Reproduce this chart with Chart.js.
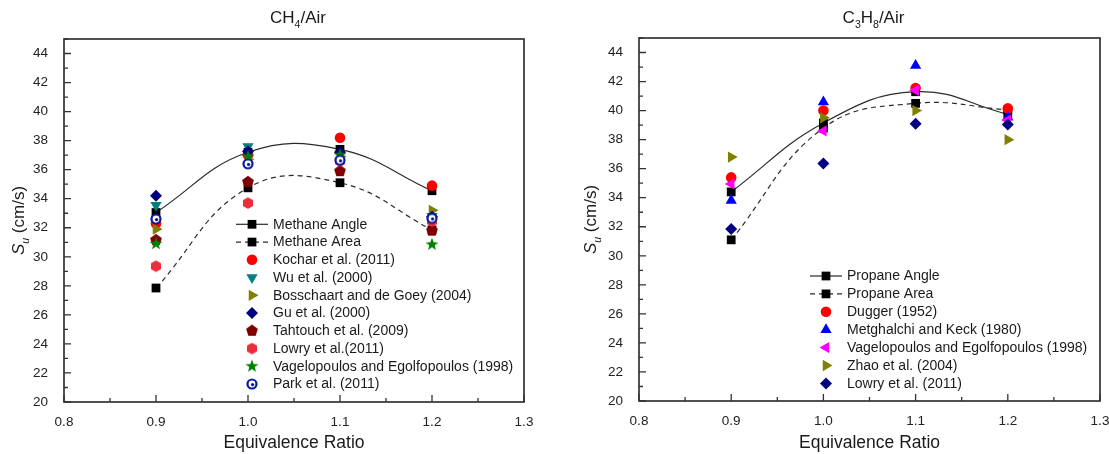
<!DOCTYPE html>
<html>
<head>
<meta charset="utf-8">
<script src="https://cdn.jsdelivr.net/npm/chart.js@4.4.1/dist/chart.umd.min.js"></script>
<style>
  html, body { margin: 0; padding: 0; background: #fff; }
  #wrap { position: relative; width: 1109px; height: 454px; overflow: hidden; background: #fff; }
  canvas { position: absolute; top: 0; }
  #ch4 { left: 0; }
  #c3h8 { left: 555px; }
</style>
</head>
<body>
<div id="wrap">
  <canvas id="ch4" width="555" height="454"></canvas>
  <canvas id="c3h8" width="554" height="454"></canvas>
</div>
<script>
// equivalence ratios where data was taken
const phi = [0.9, 1.0, 1.1, 1.2]
const xTicks = [0.8, 0.9, 1.0, 1.1, 1.2, 1.3]
const yTicks = [20, 22, 24, 26, 28, 30, 32, 34, 36, 38, 40, 42, 44]

// CH4/Air, S_u in cm/s
const methaneAngle = [33.05, 37.2, 37.4, 34.55]
const methaneArea = [27.85, 34.75, 35.1, 31.85]
const kochar = [32.3, 37.0, 38.2, 34.9]
const wu = [33.55, 37.6, 37.1, 32.8]
const bosschaart = [31.9, 36.7, 36.9, 33.2]
const gu = [34.2, 37.25, 37.2, 32.75]
const tahtouch = [31.15, 35.15, 35.9, 31.8]
const lowryCH4 = [29.35, 33.7, 36.6, 32.45]
const vageloCH4 = [30.9, 36.9, 37.0, 30.85]
const park = [32.6, 36.4, 36.65, 32.65]

// C3H8/Air, S_u in cm/s
const propaneAngle = [34.4, 39.15, 41.3, 39.75]
const propaneArea = [31.1, 38.8, 40.5, 40.05]
const dugger = [35.4, 40.0, 41.55, 40.15]
const metghalchi = [33.8, 40.6, 43.1, 39.55]
const vageloC3H8 = [34.95, 38.6, 41.4, 39.35]
const zhao = [36.8, 39.5, 40.0, 38.0]
const lowryC3H8 = [31.85, 36.35, 39.1, 39.05]

const FONT = "'Liberation Sans', Arial, sans-serif"
const LINE = '#2b2b2b'

// small canvases for the marker shapes chart.js has no built-in for
function marker (draw) {
  const c = document.createElement('canvas')
  c.width = 16
  c.height = 16
  const g = c.getContext('2d')
  g.translate(8, 8)
  draw(g)
  return c
}
function polygon (n, r, color, rot) {
  return marker(function (g) {
    g.fillStyle = color
    g.beginPath()
    for (let i = 0; i < n; i++) {
      const a = rot + i * 2 * Math.PI / n
      g.lineTo(r * Math.cos(a), r * Math.sin(a))
    }
    g.closePath()
    g.fill()
  })
}
function star (color) {
  return marker(function (g) {
    g.fillStyle = color
    g.beginPath()
    for (let i = 0; i < 10; i++) {
      const r = i % 2 ? 2.8 : 6.8
      const a = -Math.PI / 2 + i * Math.PI / 5
      g.lineTo(r * Math.cos(a), r * Math.sin(a))
    }
    g.closePath()
    g.fill()
  })
}
function ringDot (color) {
  return marker(function (g) {
    g.fillStyle = color
    g.beginPath(); g.arc(0, 0, 5.6, 0, 2 * Math.PI); g.fill()
    g.fillStyle = '#fff'
    g.beginPath(); g.arc(0, 0, 3.4, 0, 2 * Math.PI); g.fill()
    g.fillStyle = color
    g.beginPath(); g.arc(0.6, 0.6, 1.7, 0, 2 * Math.PI); g.fill()
  })
}

function pts (vals) {
  return phi.map(function (x, i) { return { x: x, y: vals[i] } })
}
function lineSet (label, vals, dash) {
  return {
    label: label,
    data: pts(vals),
    showLine: true,
    tension: 0.42,
    borderColor: LINE,
    borderWidth: 1.2,
    borderDash: dash,
    pointStyle: 'rect',
    pointRadius: 6.2,
    pointBackgroundColor: '#000',
    pointBorderColor: '#000',
    pointBorderWidth: 0
  }
}
function markSet (label, vals, color, style, radius, rotation) {
  return {
    label: label,
    data: pts(vals),
    showLine: false,
    pointStyle: style,
    pointRadius: radius,
    pointRotation: rotation || 0,
    pointBackgroundColor: color,
    pointBorderColor: color,
    pointBorderWidth: 0
  }
}

// rich text: parts of {t, sub, italic}
function drawRich (ctx, parts, x, y, size) {
  const fonts = parts.map(function (p) {
    return (p.italic ? 'italic ' : '') + (p.sub ? size * 0.62 : size) + 'px ' + FONT
  })
  let w = 0
  parts.forEach(function (p, i) { ctx.font = fonts[i]; w += ctx.measureText(p.t).width })
  let cx = x - w / 2
  ctx.textAlign = 'left'
  ctx.textBaseline = 'alphabetic'
  parts.forEach(function (p, i) {
    ctx.font = fonts[i]
    ctx.fillText(p.t, cx, y + (p.sub ? size * 0.28 : 0))
    cx += ctx.measureText(p.t).width
  })
}

const decor = {
  id: 'decor',
  afterDraw (chart, args, o) {
    const ctx = chart.ctx
    const a = chart.chartArea
    const xs = chart.scales.x
    const ys = chart.scales.y
    ctx.save()
    // frame
    ctx.strokeStyle = '#333'
    ctx.lineWidth = 1.7
    ctx.strokeRect(a.left, a.top, a.right - a.left, a.bottom - a.top)
    // inward ticks, major + minor
    ctx.lineWidth = 1.3
    ctx.beginPath()
    for (let i = 0; i <= 10; i++) {
      const px = xs.getPixelForValue(xs.min + i * 0.05)
      ctx.moveTo(px, a.bottom)
      ctx.lineTo(px, a.bottom - (i % 2 ? 4 : 7))
    }
    for (let v = ys.min; v <= ys.max; v++) {
      const py = ys.getPixelForValue(v)
      ctx.moveTo(a.left, py)
      ctx.lineTo(a.left + (v % 2 ? 4 : 7), py)
    }
    ctx.stroke()

    ctx.fillStyle = '#1a1a1a'
    // chart title
    drawRich(ctx, o.title, (a.left + a.right) / 2 + 4, 23, 17)
    // axis titles
    ctx.font = '17.5px ' + FONT
    ctx.textAlign = 'center'
    ctx.textBaseline = 'alphabetic'
    ctx.fillText('Equivalence Ratio', (a.left + a.right) / 2, 448)
    ctx.save()
    ctx.translate(o.yTitleX, (a.top + a.bottom) / 2)
    ctx.rotate(-Math.PI / 2)
    drawRich(ctx, [{ t: 'S', italic: true }, { t: 'u', italic: true, sub: true }, { t: ' (cm/s)' }], 0, 6, 17)
    ctx.restore()

    // legend
    const lg = o.legend
    ctx.font = '14px ' + FONT
    ctx.textAlign = 'left'
    ctx.textBaseline = 'middle'
    chart.data.datasets.forEach(function (d, i) {
      const y = lg.top + i * lg.step
      if (d.showLine) {
        ctx.save()
        ctx.strokeStyle = d.borderColor
        ctx.lineWidth = d.borderWidth
        ctx.setLineDash(d.borderDash || [])
        ctx.beginPath()
        ctx.moveTo(lg.x - 16, y)
        ctx.lineTo(lg.x + 16, y)
        ctx.stroke()
        ctx.restore()
      }
      ctx.fillStyle = d.pointBackgroundColor
      ctx.strokeStyle = d.pointBorderColor
      Chart.helpers.drawPoint(ctx, {
        pointStyle: d.pointStyle,
        radius: d.pointRadius,
        rotation: d.pointRotation || 0,
        borderWidth: 0
      }, lg.x, y)
      ctx.fillStyle = '#1a1a1a'
      ctx.fillText(d.label, lg.x + 21, y + 0.5)
    })
    ctx.restore()
  }
}

function makeChart (id, datasets, pad, yWidth, xHeight, decorOpts) {
  // later legend entries sit on top, the two fitted curves at the bottom
  datasets.forEach(function (d, i) { d.order = datasets.length - i })
  return new Chart(document.getElementById(id), {
    type: 'scatter',
    data: { datasets: datasets },
    options: {
      responsive: false,
      animation: false,
      layout: { padding: pad },
      plugins: {
        legend: { display: false },
        tooltip: { enabled: false },
        decor: decorOpts
      },
      scales: {
        x: {
          type: 'linear',
          min: 0.8,
          max: 1.3,
          grid: { display: false },
          border: { display: false },
          afterBuildTicks: function (s) { s.ticks = xTicks.map(function (v) { return { value: v } }) },
          afterFit: function (s) { s.height = xHeight; s.paddingLeft = 0; s.paddingRight = 0 },
          ticks: {
            autoSkip: false,
            maxRotation: 0,
            padding: 4,
            color: '#222',
            font: { family: FONT, size: 13.5 },
            callback: function (v) { return Number(v).toFixed(1) }
          }
        },
        y: {
          min: 20,
          max: 45,
          grid: { display: false },
          border: { display: false },
          afterBuildTicks: function (s) { s.ticks = yTicks.map(function (v) { return { value: v } }) },
          afterFit: function (s) { s.width = yWidth; s.paddingTop = 0; s.paddingBottom = 0 },
          ticks: {
            autoSkip: false,
            padding: 8,
            color: '#222',
            font: { family: FONT, size: 13.5 },
            callback: function (v) { return String(v) }
          }
        }
      }
    },
    plugins: [decor]
  })
}

makeChart('ch4', [
  lineSet('Methane Angle', methaneAngle, []),
  lineSet('Methane Area', methaneArea, [5, 4]),
  markSet('Kochar et al. (2011)', kochar, '#ff0000', 'circle', 5.3),
  markSet('Wu et al. (2000)', wu, '#008080', 'triangle', 6.5, 180),
  markSet('Bosschaart and de Goey (2004)', bosschaart, '#808000', 'triangle', 6.5, 90),
  markSet('Gu et al. (2000)', gu, '#000080', 'rectRot', 6),
  markSet('Tahtouch et al. (2009)', tahtouch, '#800000', polygon(5, 6.2, '#800000', -Math.PI / 2), 6),
  markSet('Lowry et al.(2011)', lowryCH4, '#ee2d3c', polygon(6, 5.8, '#ee2d3c', -Math.PI / 2), 6),
  markSet('Vagelopoulos and Egolfopoulos (1998)', vageloCH4, '#008000', star('#008000'), 6),
  markSet('Park et al. (2011)', park, '#0a1a99', ringDot('#0a1a99'), 6)
], { top: 39, right: 31, bottom: 0, left: 0 }, 64, 52, {
  title: [{ t: 'CH' }, { t: '4', sub: true }, { t: '/Air' }],
  yTitleX: 18,
  legend: { x: 252, top: 224.3, step: 17.75 }
})

makeChart('c3h8', [
  lineSet('Propane Angle', propaneAngle, []),
  lineSet('Propane Area', propaneArea, [5, 4]),
  markSet('Dugger (1952)', dugger, '#ff0000', 'circle', 5.3),
  markSet('Metghalchi and Keck (1980)', metghalchi, '#0000ff', 'triangle', 6.5),
  markSet('Vagelopoulos and Egolfopoulos (1998)', vageloC3H8, '#ff00ff', 'triangle', 6.5, -90),
  markSet('Zhao et al. (2004)', zhao, '#808000', 'triangle', 6.5, 90),
  markSet('Lowry et al. (2011)', lowryC3H8, '#000080', 'rectRot', 6)
], { top: 38, right: 9, bottom: 0, left: 0 }, 84, 53, {
  title: [{ t: 'C' }, { t: '3', sub: true }, { t: 'H' }, { t: '8', sub: true }, { t: '/Air' }],
  yTitleX: 35,
  legend: { x: 271, top: 276, step: 17.9 }
})
</script>
</body>
</html>
